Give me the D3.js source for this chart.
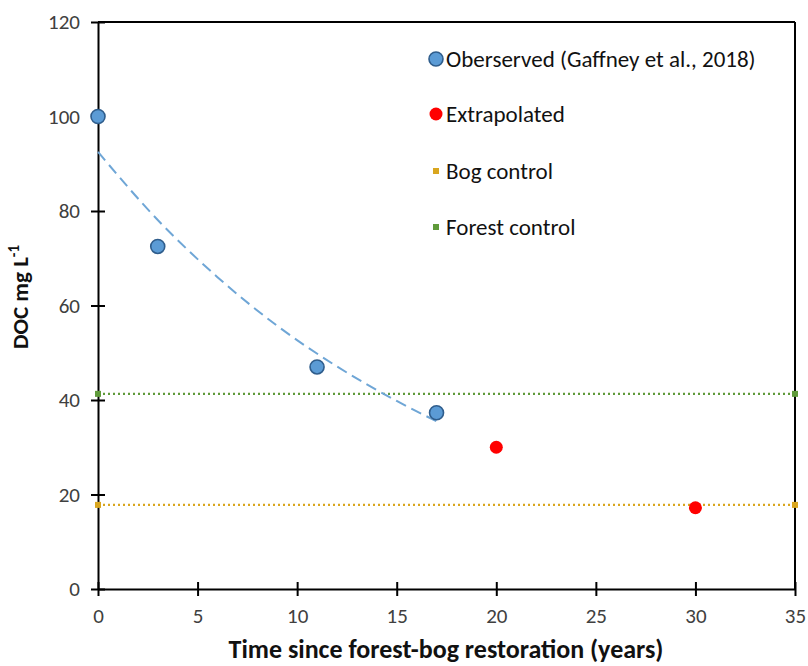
<!DOCTYPE html>
<html><head><meta charset="utf-8">
<script src="https://d3js.org/d3.v7.min.js"></script>
<style>body{margin:0;background:#fff}</style>
</head><body><svg id="c" width="808" height="666"></svg>
<script>
const observedX = [0, 3, 11, 17];
const observedY = [100, 72.5, 47, 37.3];
const extrapX = [20, 30];
const extrapY = [30, 17.2];
const bogControl = 17.8;
const forestControl = 41.3;
const trendX = [0, 3, 6, 9, 12, 15, 17];
const trendY = [92.5, 78.1, 66.0, 55.7, 47.1, 39.8, 35.5];
const xTicks = [0, 5, 10, 15, 20, 25, 30, 35];
const yTicks = [0, 20, 40, 60, 80, 100, 120];
const legendLabels = ["Oberserved (Gaffney et al., 2018)", "Extrapolated", "Bog control", "Forest control"];

const svg = d3.select("#c");
const font = "Carlito, 'Open Sans', 'Liberation Sans', sans-serif";
const x = d3.scaleLinear().domain([0, 35]).range([98, 795]);
const y = d3.scaleLinear().domain([0, 120]).range([589, 22]);

svg.append("line").attr("x1", x(0)).attr("x2", x(35)).attr("y1", y(120)).attr("y2", y(120)).attr("stroke", "#000").attr("stroke-width", 2);
svg.append("line").attr("x1", x(35)).attr("x2", x(35)).attr("y1", y(0)).attr("y2", y(120)).attr("stroke", "#000").attr("stroke-width", 2);

const xAxis = svg.append("g").attr("transform", `translate(0,${y(0)})`)
  .call(d3.axisBottom(x).tickValues(xTicks).tickSizeInner(7).tickSizeOuter(0).tickPadding(12));
const yAxis = svg.append("g").attr("transform", `translate(${x(0)},0)`)
  .call(d3.axisLeft(y).tickValues(yTicks).tickSizeInner(7).tickSizeOuter(0).tickPadding(11));
[xAxis, yAxis].forEach(g => {
  g.select(".domain").attr("stroke", "#000").attr("stroke-width", 2);
  g.selectAll(".tick line").attr("stroke", "#000").attr("stroke-width", 2);
  g.selectAll(".tick text").attr("font-family", font).attr("font-size", 21).attr("fill", "#404040");
});
xAxis.selectAll(".tick line").attr("y1", -7);
yAxis.selectAll(".tick line").attr("x1", 7);

const ctrl = [[bogControl, "#d9a61f"], [forestControl, "#5f9a3a"]];
ctrl.forEach(([v, c]) => {
  svg.append("line").attr("x1", x(0)).attr("x2", x(35)).attr("y1", y(v)).attr("y2", y(v))
    .attr("stroke", c).attr("stroke-width", 2.2).attr("stroke-dasharray", "2,3");
  [0, 35].forEach(t => svg.append("rect").attr("x", x(t) - 3).attr("y", y(v) - 3).attr("width", 6).attr("height", 6).attr("fill", c));
});

const line = d3.line().x(d => x(d[0])).y(d => y(d[1])).curve(d3.curveMonotoneX);
svg.append("path").datum(trendX.map((d, i) => [d, trendY[i]])).attr("d", line)
  .attr("fill", "none").attr("stroke", "#6fa6d6").attr("stroke-width", 2).attr("stroke-dasharray", "11,6");

svg.selectAll(".obs").data(observedX).enter().append("circle")
  .attr("cx", d => x(d)).attr("cy", (d, i) => y(observedY[i])).attr("r", 7)
  .attr("fill", "#5b9bd5").attr("stroke", "#2f5d8c").attr("stroke-width", 1.6);
svg.selectAll(".ext").data(extrapX).enter().append("circle")
  .attr("cx", d => x(d)).attr("cy", (d, i) => y(extrapY[i])).attr("r", 6.5)
  .attr("fill", "#ff0000");

const ly = [59, 114, 171, 227];
svg.append("circle").attr("cx", 436).attr("cy", ly[0]).attr("r", 7).attr("fill", "#5b9bd5").attr("stroke", "#2f5d8c").attr("stroke-width", 1.6);
svg.append("circle").attr("cx", 436).attr("cy", ly[1]).attr("r", 6.5).attr("fill", "#ff0000");
svg.append("rect").attr("x", 433).attr("y", ly[2] - 3).attr("width", 6).attr("height", 6).attr("fill", "#d9a61f");
svg.append("rect").attr("x", 433).attr("y", ly[3] - 3).attr("width", 6).attr("height", 6).attr("fill", "#5f9a3a");
legendLabels.forEach((t, i) => {
  svg.append("text").attr("x", 446).attr("y", ly[i]).attr("dy", "0.35em").attr("font-family", font)
    .attr("font-size", 23).attr("fill", "#111").text(t);
});

svg.append("text").attr("x", 446).attr("y", 658).attr("text-anchor", "middle").attr("font-family", font)
  .attr("font-size", 26).attr("font-weight", "bold").attr("fill", "#111").text("Time since forest-bog restoration (years)");
const yt = svg.append("text").attr("transform", "translate(28,297) rotate(-90)").attr("text-anchor", "middle")
  .attr("font-family", font).attr("font-size", 23).attr("font-weight", "bold").attr("fill", "#111");
yt.append("tspan").text("DOC mg L");
yt.append("tspan").attr("dy", -9).attr("font-size", 15).text("-1");
</script></body></html>
